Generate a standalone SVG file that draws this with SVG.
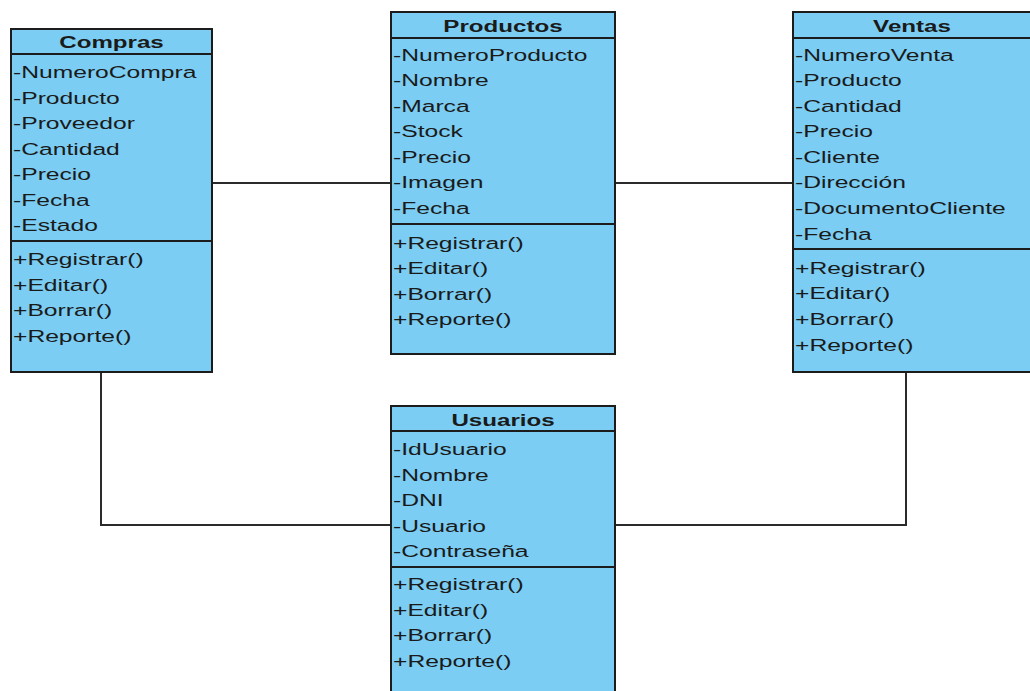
<svg xmlns="http://www.w3.org/2000/svg" width="1030" height="691" viewBox="0 0 1030 691">
  <style>
    .box { fill: #7bcdf3; stroke: #1c1c1c; stroke-width: 2; }
    .sep { stroke: #1c1c1c; stroke-width: 2; }
    .title { font-family: "Liberation Sans", Arial, sans-serif; font-size: 17px; font-weight: bold; fill: #1a1a1a; text-anchor: middle; }
    .item { font-family: "Liberation Sans", Arial, sans-serif; font-size: 17px; fill: #1a1a1a; }
    .link { fill: none; stroke: #2b2b2b; stroke-width: 2; }
  </style>

  <rect x="0" y="0" width="1030" height="691" fill="#ffffff"/>

  <!-- associations -->
  <g id="connectors">
    <path class="link" d="M212,183 H391"/>
    <path class="link" d="M615,183 H793"/>
    <path class="link" d="M101,372 V525 H391"/>
    <path class="link" d="M906,372 V525 H615"/>
  </g>

  <!-- Compras -->
  <g id="compras">
    <rect class="box" x="11" y="29" width="201" height="343"/>
    <line class="sep" x1="11" y1="54" x2="212" y2="54"/>
    <line class="sep" x1="11" y1="241" x2="212" y2="241"/>
    <text class="title" transform="translate(111.5 48) scale(1.42 1)">Compras</text>
    <text class="item" transform="translate(13 78) scale(1.45 1)">-NumeroCompra</text>
    <text class="item" transform="translate(13 103.5) scale(1.45 1)">-Producto</text>
    <text class="item" transform="translate(13 129) scale(1.45 1)">-Proveedor</text>
    <text class="item" transform="translate(13 154.5) scale(1.45 1)">-Cantidad</text>
    <text class="item" transform="translate(13 180) scale(1.45 1)">-Precio</text>
    <text class="item" transform="translate(13 205.5) scale(1.45 1)">-Fecha</text>
    <text class="item" transform="translate(13 231) scale(1.45 1)">-Estado</text>
    <text class="item" transform="translate(13 265) scale(1.45 1)">+Registrar()</text>
    <text class="item" transform="translate(13 290.5) scale(1.45 1)">+Editar()</text>
    <text class="item" transform="translate(13 316) scale(1.45 1)">+Borrar()</text>
    <text class="item" transform="translate(13 341.5) scale(1.45 1)">+Reporte()</text>
  </g>

  <!-- Productos -->
  <g id="productos">
    <rect class="box" x="391" y="12" width="224" height="342"/>
    <line class="sep" x1="391" y1="38" x2="615" y2="38"/>
    <line class="sep" x1="391" y1="224" x2="615" y2="224"/>
    <text class="title" transform="translate(503 32) scale(1.42 1)">Productos</text>
    <text class="item" transform="translate(393 60.5) scale(1.45 1)">-NumeroProducto</text>
    <text class="item" transform="translate(393 86) scale(1.45 1)">-Nombre</text>
    <text class="item" transform="translate(393 111.5) scale(1.45 1)">-Marca</text>
    <text class="item" transform="translate(393 137) scale(1.45 1)">-Stock</text>
    <text class="item" transform="translate(393 162.5) scale(1.45 1)">-Precio</text>
    <text class="item" transform="translate(393 188) scale(1.45 1)">-Imagen</text>
    <text class="item" transform="translate(393 213.5) scale(1.45 1)">-Fecha</text>
    <text class="item" transform="translate(393 248.5) scale(1.45 1)">+Registrar()</text>
    <text class="item" transform="translate(393 274) scale(1.45 1)">+Editar()</text>
    <text class="item" transform="translate(393 299.5) scale(1.45 1)">+Borrar()</text>
    <text class="item" transform="translate(393 325) scale(1.45 1)">+Reporte()</text>
  </g>

  <!-- Ventas -->
  <g id="ventas">
    <rect class="box" x="793" y="12" width="260" height="360"/>
    <line class="sep" x1="793" y1="38" x2="1040" y2="38"/>
    <line class="sep" x1="793" y1="249" x2="1040" y2="249"/>
    <text class="title" transform="translate(912 32) scale(1.42 1)">Ventas</text>
    <text class="item" transform="translate(795 60.5) scale(1.45 1)">-NumeroVenta</text>
    <text class="item" transform="translate(795 86) scale(1.45 1)">-Producto</text>
    <text class="item" transform="translate(795 111.5) scale(1.45 1)">-Cantidad</text>
    <text class="item" transform="translate(795 137) scale(1.45 1)">-Precio</text>
    <text class="item" transform="translate(795 162.5) scale(1.45 1)">-Cliente</text>
    <text class="item" transform="translate(795 188) scale(1.45 1)">-Dirección</text>
    <text class="item" transform="translate(795 213.5) scale(1.45 1)">-DocumentoCliente</text>
    <text class="item" transform="translate(795 239.5) scale(1.45 1)">-Fecha</text>
    <text class="item" transform="translate(795 273.5) scale(1.45 1)">+Registrar()</text>
    <text class="item" transform="translate(795 299) scale(1.45 1)">+Editar()</text>
    <text class="item" transform="translate(795 324.5) scale(1.45 1)">+Borrar()</text>
    <text class="item" transform="translate(795 350.5) scale(1.45 1)">+Reporte()</text>
  </g>

  <!-- Usuarios -->
  <g id="usuarios">
    <rect class="box" x="391" y="406" width="224" height="300"/>
    <line class="sep" x1="391" y1="431" x2="615" y2="431"/>
    <line class="sep" x1="391" y1="567" x2="615" y2="567"/>
    <text class="title" transform="translate(503 426) scale(1.42 1)">Usuarios</text>
    <text class="item" transform="translate(393 455) scale(1.45 1)">-IdUsuario</text>
    <text class="item" transform="translate(393 480.5) scale(1.45 1)">-Nombre</text>
    <text class="item" transform="translate(393 506) scale(1.45 1)">-DNI</text>
    <text class="item" transform="translate(393 531.5) scale(1.45 1)">-Usuario</text>
    <text class="item" transform="translate(393 557) scale(1.45 1)">-Contraseña</text>
    <text class="item" transform="translate(393 590) scale(1.45 1)">+Registrar()</text>
    <text class="item" transform="translate(393 615.5) scale(1.45 1)">+Editar()</text>
    <text class="item" transform="translate(393 641) scale(1.45 1)">+Borrar()</text>
    <text class="item" transform="translate(393 666.5) scale(1.45 1)">+Reporte()</text>
  </g>
</svg>
